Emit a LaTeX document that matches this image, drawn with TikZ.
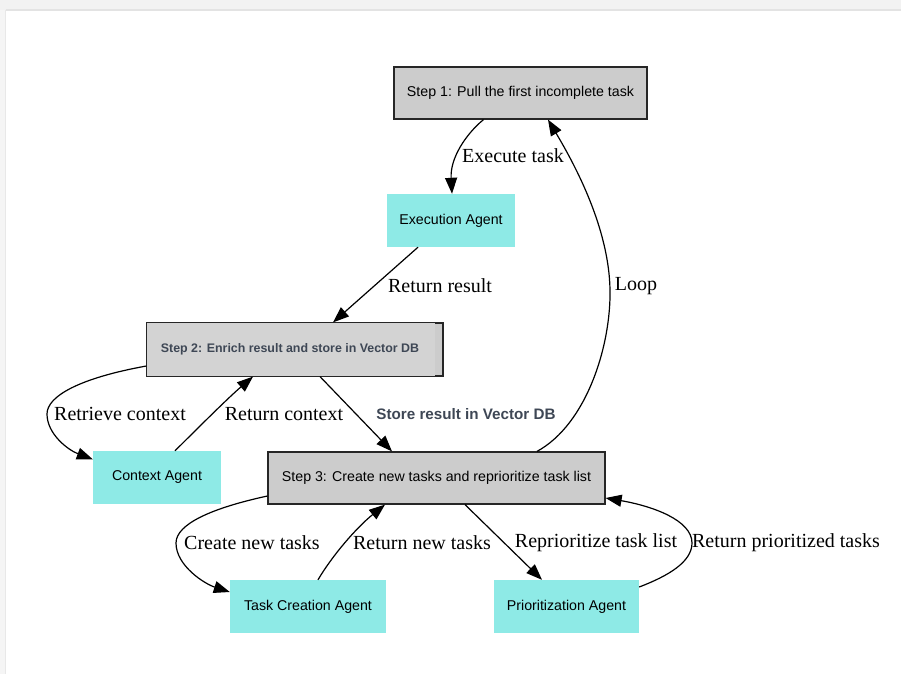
\documentclass[tikz,border=0pt]{standalone}
\usepackage{fontspec}
\setmainfont{Liberation Serif}
\setsansfont{Liberation Sans}
\usetikzlibrary{arrows.meta,calc}
\definecolor{stepgray}{HTML}{CCCCCC}
\definecolor{steplight}{HTML}{D3D3D3}
\definecolor{agentcyan}{HTML}{8EEAE6}
\definecolor{slate}{HTML}{3E4755}
\tikzset{
  x=1pt, y=-1pt,
  stepbox/.style={draw=black!85, line width=1.2pt, fill=stepgray, inner sep=0pt,
    font=\sffamily\fontsize{14.2}{16}\selectfont},
  agentbox/.style={fill=agentcyan, inner sep=0pt,
    font=\sffamily\fontsize{14.2}{16}\selectfont},
  lbl/.style={font=\rmfamily\fontsize{20}{24}\selectfont, inner sep=0pt},
  conn/.style={line width=1.2pt, -{Triangle[length=16pt,width=12pt]}},
}
\begin{document}
\begin{tikzpicture}
\useasboundingbox (0,0) rectangle (901,674);
% window chrome
\fill[black!5] (0,0) rectangle (901,10);
\draw[black!11, line width=1.5pt] (6,10) -- (901,10);
\fill[black!4] (0,10) rectangle (6,674);
\draw[black!9, line width=1pt] (5.5,10) -- (5.5,674);

% nodes
\node[stepbox, minimum width=253, minimum height=52] (s1) at (520.5,93) {Step 1: Pull the first incomplete task};
\node[agentbox, minimum width=128, minimum height=53] (exec) at (451,220.5) {Execution Agent};
\node[stepbox, minimum width=296, minimum height=53] (s2) at (295,349.5) {};
\fill[steplight] (s2.north west) rectangle ([xshift=-9]s2.south east);
\draw[black!85, line width=1.2pt] (s2.north west) rectangle (s2.south east);
\node[text=slate, font=\sffamily\bfseries\fontsize{12.4}{14}\selectfont, inner sep=0pt] (s2t) at (290,349.5) {Step 2: Enrich result and store in Vector DB};
\node[agentbox, minimum width=128, minimum height=53] (ctx) at (157,477.5) {Context Agent};
\node[stepbox, minimum width=337, minimum height=52] (s3) at (436.5,478) {Step 3: Create new tasks and reprioritize task list};
\node[agentbox, minimum width=156, minimum height=53] (tc) at (308,606.5) {Task Creation Agent};
\node[agentbox, minimum width=145, minimum height=53] (pr) at (566.5,606.5) {Prioritization Agent};

% connectors
\draw[conn] ([xshift=-37]s1.south) .. controls (466,134) and (450,158) .. ([xshift=1]exec.north);
\draw[conn] ([xshift=-33]exec.south) -- ([xshift=38]s2.north);
\draw[conn] ([yshift=-16.5]s2.west) .. controls (80,378) and (47,396) .. (47,414)
  .. controls (47,434) and (68,450) .. ([yshift=-8.5]ctx.north west);
\draw[conn] ([xshift=18]ctx.north) .. controls (200,426) and (228,398) .. ([xshift=-42]s2.south);
\draw[conn] ([xshift=25]s2.south) -- ([xshift=-44.5]s3.north);
\draw[conn] ([xshift=100.5]s3.north) .. controls (587,424) and (611,345) .. (610,290)
  .. controls (609,228) and (575,165) .. ([xshift=27.5]s1.south);
\draw[conn] ([yshift=-18]s3.west) .. controls (212,508) and (176,524) .. (176,543)
  .. controls (176,566) and (205,584) .. ([yshift=14.5]tc.west);
\draw[conn] ([xshift=10]tc.north) .. controls (332,556) and (356,528) .. ([xshift=-51.5]s3.south);
\draw[conn] ([xshift=28.5]s3.south) -- ([xshift=-24.5]pr.north);
\draw[conn] ([yshift=19.5]pr.east) .. controls (668,576) and (692,562) .. (692,543)
  .. controls (692,520) and (652,506) .. ([yshift=-20]s3.east);

% edge labels
\node[lbl] (l1) at (513,156) {Execute task};
\node[lbl] (l2) at (440,286) {Return result};
\node[lbl] (l3) at (120,414) {Retrieve context};
\node[lbl] (l4) at (284,414) {Return context};
\node[inner sep=0pt, text=slate, font=\sffamily\bfseries\fontsize{15.2}{17}\selectfont] (l5) at (466,414) {Store result in Vector DB};
\node[lbl] (l6) at (636,286) {Loop};
\node[lbl] (l7) at (252,543) {Create new tasks};
\node[lbl] (l8) at (422,543) {Return new tasks};
\node[lbl] (l9) at (596,543) {Reprioritize task list};
\node[lbl] (l10) at (786,543) {Return prioritized tasks};
\end{tikzpicture}
\end{document}
